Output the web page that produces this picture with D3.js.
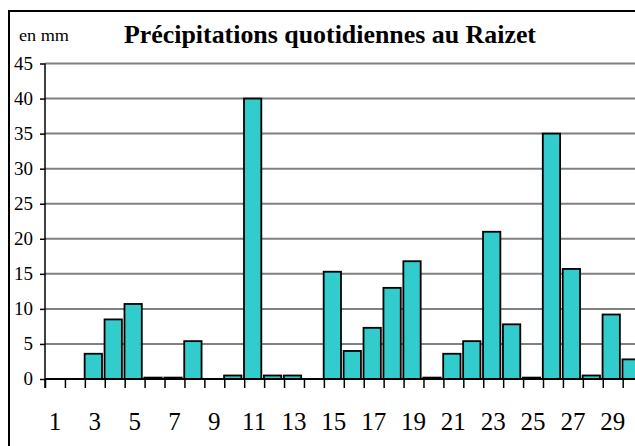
<html><head><meta charset="utf-8"><script src="https://cdn.jsdelivr.net/npm/d3@7"></script></head>
<body style="margin:0">
<svg id="s" width="635" height="446" style="display:block"></svg>
<script>
const days = d3.range(1, 31);
const values = [0, 0, 3.6, 8.5, 10.7, 0.2, 0.2, 5.4, 0, 0.5,
                40, 0.5, 0.5, 0, 15.3, 4.0, 7.3, 13.0, 16.8, 0.2,
                3.6, 5.4, 21.0, 7.8, 0.2, 35.0, 15.7, 0.5, 9.2, 2.8];
const yTicks = [0, 5, 10, 15, 20, 25, 30, 35, 40, 45];
const xLabels = [1, 3, 5, 7, 9, 11, 13, 15, 17, 19, 21, 23, 25, 27, 29];
const chartTitle = "Précipitations quotidiennes au Raizet";
const unitLabel = "en mm";

const SERIF = "'Liberation Serif', 'Times New Roman', 'Noto Serif', 'DejaVu Serif'";

const svg = d3.select("#s");

const pLeft = 45, pRight = 642.6, pTop = 63.5, pBottom = 379;

const xs = d3.scaleBand().domain(days).range([pLeft, pRight]).padding(0);
const xl = d3.scaleLinear().domain([0.5, 30.5]).range([pLeft, pRight]);
const ys = d3.scaleLinear().domain([0, 45]).range([pBottom, pTop]);
const bw = xs.bandwidth();

svg.append("rect")
  .attr("x", 9).attr("y", 11).attr("width", 640).attr("height", 450)
  .attr("fill", "none").attr("stroke", "#000").attr("stroke-width", 2);

svg.append("g").selectAll("line")
  .data(yTicks.filter(d => d > 0))
  .join("line")
  .attr("x1", pLeft).attr("x2", pRight)
  .attr("y1", d => ys(d)).attr("y2", d => ys(d))
  .attr("stroke", "#808080").attr("stroke-width", 2);

svg.append("g").selectAll("rect")
  .data(days.map((d, i) => ({ day: d, v: values[i] })).filter(d => d.v > 0))
  .join("rect")
  .attr("x", d => xs(d.day) - 0.2)
  .attr("width", bw - 2.6)
  .attr("y", d => ys(d.v))
  .attr("height", d => ys(0) - ys(d.v))
  .attr("fill", "#33CCCC")
  .attr("stroke", "#000")
  .attr("stroke-width", 1.8);

const yAxis = svg.append("g").attr("transform", `translate(${pLeft},0)`)
  .call(d3.axisLeft(ys).tickValues(yTicks).tickSize(5).tickFormat(""));
yAxis.select(".domain").remove();
yAxis.selectAll(".tick line").attr("stroke", "#000").attr("stroke-width", 1.5);
const yLab = svg.append("g").selectAll("text")
  .data(yTicks)
  .join("text")
  .attr("x", 33).attr("y", d => ys(d) + 6)
  .attr("text-anchor", "end")
  .style("font-family", SERIF).style("font-size", "19px")
  .text(d => d);
svg.append("line")
  .attr("x1", pLeft).attr("x2", pLeft).attr("y1", pTop).attr("y2", pBottom + 9)
  .attr("stroke", "#000").attr("stroke-width", 1.5);

const xTickAxis = svg.append("g").attr("transform", `translate(0,${pBottom})`)
  .call(d3.axisBottom(xl).tickValues(d3.range(0.5, 31, 1)).tickSize(9).tickFormat(""));
xTickAxis.select(".domain").remove();
xTickAxis.selectAll(".tick line").attr("stroke", "#000").attr("stroke-width", 1.5);
svg.append("line")
  .attr("x1", pLeft).attr("x2", pRight).attr("y1", pBottom).attr("y2", pBottom)
  .attr("stroke", "#000").attr("stroke-width", 2);

const xLab = svg.append("g").selectAll("text")
  .data(xLabels)
  .join("text")
  .attr("x", d => xl(d)).attr("y", pBottom + 51)
  .attr("text-anchor", "middle")
  .style("font-family", SERIF).style("font-size", "25px")
  .text(d => d);

const titleText = svg.append("text")
  .attr("x", 124).attr("y", 42.5)
  .style("font-family", SERIF)
  .style("font-size", "25px").style("font-weight", "bold")
  .text(chartTitle);

const unitText = svg.append("text")
  .attr("x", 19).attr("y", 41)
  .style("font-family", SERIF)
  .style("font-size", "16px")
  .text(unitLabel);

// measure texts and fit title / unit label to their widths in the reference
function fit(sel, target) {
  const w = sel.node().getComputedTextLength();
  if (w > 0 && Math.abs(w - target) > 2) {
    sel.attr("textLength", target).attr("lengthAdjust", "spacingAndGlyphs");
  }
}
yLab.each(function () { this.getComputedTextLength(); });
xLab.each(function () { this.getComputedTextLength(); });
fit(titleText, 412);
fit(unitText, 50);
</script></body></html>
